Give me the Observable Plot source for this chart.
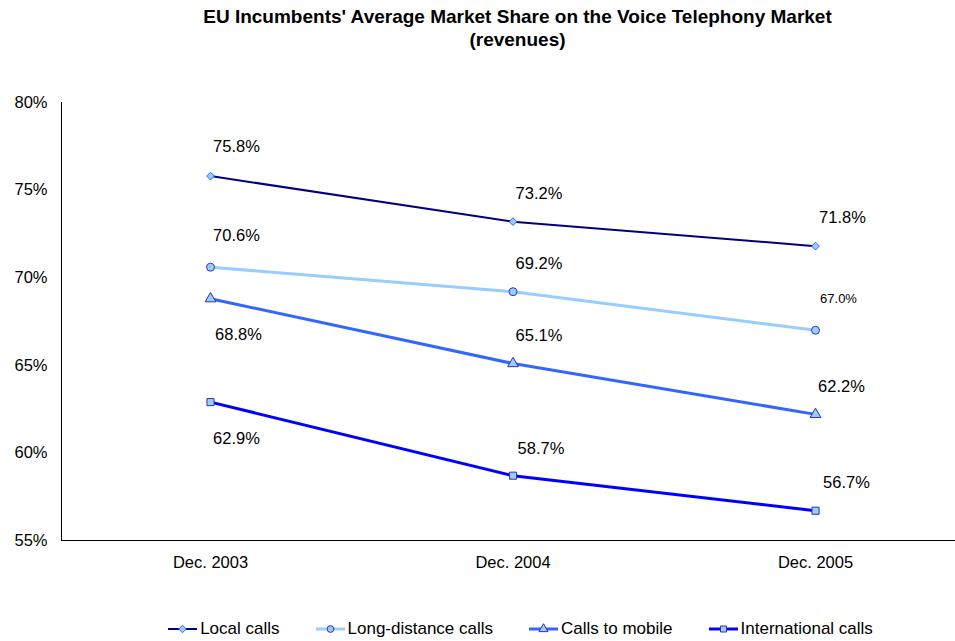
<!DOCTYPE html>
<html>
<head>
<meta charset="utf-8">
<script src="https://cdn.jsdelivr.net/npm/d3@7"></script>
<script src="https://cdn.jsdelivr.net/npm/@observablehq/plot@0.6"></script>
<style>
  html, body { margin: 0; padding: 0; background: #fff; }
  #wrap { position: relative; width: 955px; height: 641px; font-family: "Liberation Sans", Arial, sans-serif; }
  #title { position: absolute; left: 40px; width: 955px; top: 5px; text-align: center; font-weight: bold; font-size: 19px; line-height: 23px; color: #000; }
  #legend { position: absolute; left: 43px; width: 955px; top: 619px; display: flex; justify-content: center; gap: 36px; font-size: 17px; color: #000; }
  .item { display: flex; align-items: center; }
  .item svg { margin-right: 3px; }
</style>
</head>
<body>
<div id="wrap">
  <div id="title">EU Incumbents' Average Market Share on the Voice Telephony Market<br>(revenues)</div>
  <div id="chart"></div>
  <div id="legend"></div>
</div>
<script>
const categories = ["Dec. 2003", "Dec. 2004", "Dec. 2005"];
const seriesNames = ["Local calls", "Long-distance calls", "Calls to mobile", "International calls"];
const localCalls = [75.8, 73.2, 71.8];
const longDistanceCalls = [70.6, 69.2, 67.0];
const callsToMobile = [68.8, 65.1, 62.2];
const internationalCalls = [62.9, 58.7, 56.7];
const yTicks = [55, 60, 65, 70, 75, 80];

// styles (kept apart from data)
const lineColors = ["#000080", "#99CCFF", "#3366FF", "#0000FF"];
const lineWidths = [2, 3, 3, 3];
const symbols = ["diamond2", "circle", "triangle", "square"];
const markerStroke = ["#3366FF", "#3333CC", "#333399", "#333399"];
const labelDy = [
  [-29, -28, -28],
  [-31, -28, -31],
  [36, -28, -28],
  [37, -27, -28]
];
const labelDx = [
  [26, 26, 27],
  [26, 26, 23],
  [28, 26, 26],
  [26, 28, 31]
];
const labelSize = [
  [16.5, 16.5, 16.5],
  [16.5, 16.5, 13],
  [16.5, 16.5, 16.5],
  [16.5, 16.5, 16.5]
];

const allValues = [localCalls, longDistanceCalls, callsToMobile, internationalCalls];
const rows = [];
allValues.forEach((vals, s) => vals.forEach((v, i) => rows.push({
  series: seriesNames[s], s, i, value: v,
  dx: labelDx[s][i], dy: labelDy[s][i], size: labelSize[s][i]
})));

const xDomain = [-0.4926, 2.4628];

const marks = [
  Plot.ruleY([55], {stroke: "#000", strokeWidth: 1}),
  Plot.ruleX([xDomain[0]], {y1: 55, y2: 80, stroke: "#000", strokeWidth: 1}),
  Plot.axisY({ticks: yTicks, tickSize: 0, tickPadding: 14, tickFormat: d => d + "%", fontSize: 16.5, label: null}),
  Plot.axisX({ticks: [0, 1, 2], tickSize: 0, tickPadding: 16, tickFormat: i => categories[i], fontSize: 16.5, label: null})
];
seriesNames.forEach((name, s) => {
  const d = rows.filter(r => r.s === s);
  marks.push(Plot.line(d, {x: "i", y: "value", stroke: lineColors[s], strokeWidth: lineWidths[s]}));
});
seriesNames.forEach((name, s) => {
  const d = rows.filter(r => r.s === s);
  marks.push(Plot.dot(d, {x: "i", y: "value", symbol: () => symbols[s], r: s === 0 ? 3.5 : 4, fill: "#99CCFF", stroke: markerStroke[s], strokeWidth: 1}));
});
rows.forEach(r => {
  marks.push(Plot.text([r], {x: "i", y: "value", text: d => d.value.toFixed(1) + "%", dx: r.dx, dy: r.dy, fontSize: r.size, fill: "#000", textAnchor: "middle"}));
});

const chart = Plot.plot({
  width: 955,
  height: 641,
  marginTop: 102,
  marginBottom: 101,
  marginLeft: 61,
  marginRight: 0,
  style: {fontFamily: "'Liberation Sans', Arial, sans-serif", color: "#000", background: "#fff"},
  x: {domain: xDomain, axis: null},
  y: {domain: [55, 80], axis: null},
  symbol: {type: "identity"},
  marks
});
document.getElementById("chart").appendChild(chart);

// legend
const symbolTypes = {diamond2: d3.symbolDiamond2, circle: d3.symbolCircle, triangle: d3.symbolTriangle, square: d3.symbolSquare};
const legend = d3.select("#legend");
seriesNames.forEach((name, s) => {
  const item = legend.append("div").attr("class", "item");
  const sv = item.append("svg").attr("width", 29).attr("height", 12);
  sv.append("line").attr("x1", 0).attr("x2", 29).attr("y1", 6).attr("y2", 6)
    .attr("stroke", lineColors[s]).attr("stroke-width", lineWidths[s]);
  sv.append("path").attr("transform", "translate(14.5,6)")
    .attr("d", d3.symbol(symbolTypes[symbols[s]], 36)())
    .attr("fill", "#99CCFF").attr("stroke", markerStroke[s]);
  item.append("span").text(name);
});
</script>
</body>
</html>
